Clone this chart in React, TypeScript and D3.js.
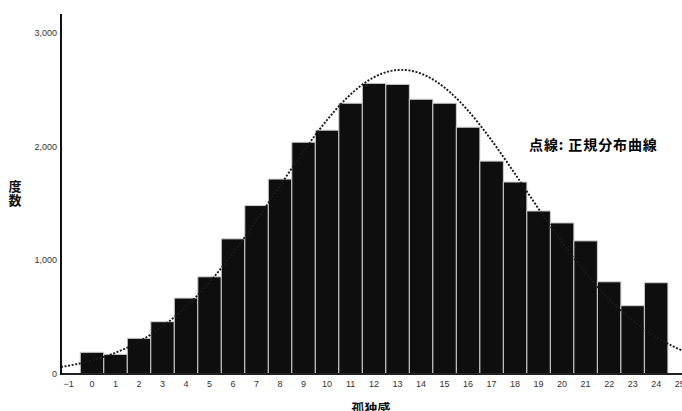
import * as d3 from "d3";

// Histogram of 孤独感 (loneliness score) frequencies
const scores = [0, 1, 2, 3, 4, 5, 6, 7, 8, 9, 10, 11, 12, 13, 14, 15, 16, 17, 18, 19, 20, 21, 22, 23, 24];
const counts = [191, 173, 314, 460, 668, 855, 1189, 1482, 1715, 2039, 2145, 2382, 2557, 2548, 2417, 2382, 2171, 1873, 1689, 1434, 1329, 1171, 811, 601, 803];
const xTicks = [-1, 0, 1, 2, 3, 4, 5, 6, 7, 8, 9, 10, 11, 12, 13, 14, 15, 16, 17, 18, 19, 20, 21, 22, 23, 24, 25];
const yTicks = [0, 1000, 2000, 3000];

export default function App() {
  const width = 682,
    height = 411;

  // Scales
  const x = d3.scaleLinear().domain([-1.32, 25.1]).range([61, 682]);
  const y = d3.scaleLinear().domain([0, 3000]).range([374, 33]);
  const bw = x(1) - x(0);

  // Normal curve fitted to the histogram (mean, sd, total)
  const n = d3.sum(counts);
  const mean = d3.sum(scores, (s, i) => s * counts[i]) / n;
  const sd = Math.sqrt(d3.sum(scores, (s, i) => counts[i] * (s - mean) ** 2) / n);
  const pdf = (v: number) =>
    (n / (sd * Math.sqrt(2 * Math.PI))) * Math.exp(-0.5 * ((v - mean) / sd) ** 2);
  const curveXs = d3.range(-1.32, 25.1, 0.05);
  const line = d3
    .line<number>()
    .x((v) => x(v))
    .y((v) => y(pdf(v)))
    .curve(d3.curveBasis);

  const fmt = d3.format(",");
  const font = "'Liberation Sans', Arial, sans-serif";
  const cjk = "'Noto Sans CJK JP', sans-serif";

  return (
    <svg
      width={width}
      height={height}
      style={{ position: "absolute", left: 0, top: 0, background: "#fff" }}
    >
      {/* bars */}
      {scores.map((s, i) => (
        <rect
          key={s}
          x={x(s) - bw / 2}
          y={y(counts[i])}
          width={bw}
          height={y(0) - y(counts[i])}
          fill="#0e0e0e"
          stroke="#cfcfcf"
          strokeWidth={1}
        />
      ))}

      {/* normal curve */}
      <path
        d={line(curveXs) || ""}
        fill="none"
        stroke="#1a1a1a"
        strokeWidth={1.9}
        strokeDasharray="2,1.6"
      />

      {/* axes */}
      <line x1={61} x2={682} y1={y(0)} y2={y(0)} stroke="#222" strokeWidth={2} />
      <line x1={61} x2={61} y1={14} y2={y(0) + 1} stroke="#111" strokeWidth={2} />

      {yTicks.map((t) => (
        <text
          key={t}
          x={57}
          y={y(t) + 3}
          textAnchor="end"
          fontFamily={font}
          fontSize={9}
          fill="#333"
        >
          {fmt(t)}
        </text>
      ))}
      {xTicks.map((t) => (
        <text
          key={t}
          x={x(t)}
          y={387}
          textAnchor="middle"
          fontFamily={font}
          fontSize={9}
          fill="#333"
        >
          {t < 0 ? "\u2212" + Math.abs(t) : t}
        </text>
      ))}

      {/* titles */}
      <text x={15} y={191} textAnchor="middle" fontFamily={cjk} fontWeight="bold" fontSize={13} fill="#111">
        度
      </text>
      <text x={15} y={205} textAnchor="middle" fontFamily={cjk} fontWeight="bold" fontSize={13} fill="#111">
        数
      </text>
      <text x={371} y={413} textAnchor="middle" fontFamily={cjk} fontWeight="bold" fontSize={13} fill="#111">
        孤独感
      </text>
      <text
        x={529}
        y={150}
        fontFamily={cjk}
        fontWeight="bold"
        fontSize={14}
        letterSpacing={0.9}
        fill="#000"
      >
        点線: 正規分布曲線
      </text>
    </svg>
  );
}
